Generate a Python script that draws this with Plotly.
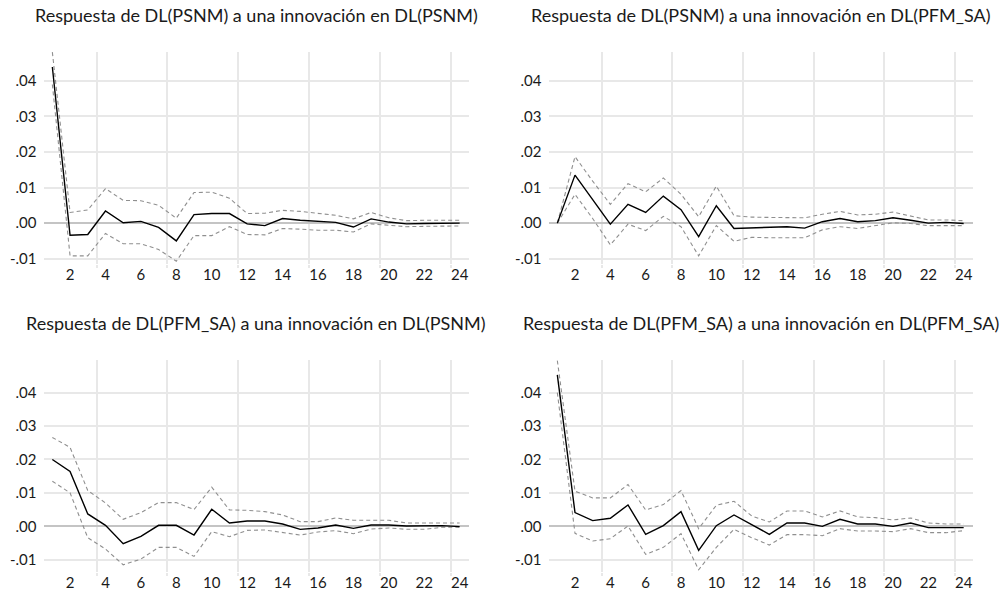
import plotly.graph_objects as go

periods = list(range(1, 25))

# Panel 1: Respuesta de DL(PSNM) a una innovación en DL(PSNM)
p1_irf = [0.0439, -0.0034, -0.0032, 0.0034, 0.0001, 0.0005, -0.0012, -0.0050, 0.0024, 0.0027, 0.0027, -0.0002,
          -0.0007, 0.0013, 0.0008, 0.0005, 0.0002, -0.0011, 0.0012, 0.0003, -0.0002, -0.0001, -0.0001, 0.0000]
p1_up = [0.0481, 0.0030, 0.0037, 0.0097, 0.0064, 0.0063, 0.0050, 0.0014, 0.0086, 0.0087, 0.0070, 0.0027,
         0.0028, 0.0036, 0.0033, 0.0028, 0.0022, 0.0012, 0.0030, 0.0015, 0.0007, 0.0008, 0.0008, 0.0008]
p1_lo = [0.0390, -0.0092, -0.0092, -0.0029, -0.0058, -0.0058, -0.0074, -0.0107, -0.0035, -0.0035, -0.0010, -0.0032,
         -0.0033, -0.0015, -0.0017, -0.0020, -0.0020, -0.0025, -0.0002, -0.0006, -0.0010, -0.0009, -0.0008, -0.0008]

# Panel 2: Respuesta de DL(PSNM) a una innovación en DL(PFM_SA)
p2_irf = [0.0000, 0.0135, 0.0066, -0.0003, 0.0053, 0.0030, 0.0076, 0.0038, -0.0038, 0.0049, -0.0015, -0.0013,
          -0.0013, -0.0010, -0.0014, 0.0004, 0.0013, 0.0004, 0.0007, 0.0015, 0.0008, 0.0000, 0.0002, -0.0001]
p2_up = [0.0000, 0.0187, 0.0118, 0.0053, 0.0111, 0.0088, 0.0127, 0.0081, 0.0018, 0.0104, 0.0021, 0.0017,
         0.0016, 0.0015, 0.0015, 0.0025, 0.0033, 0.0023, 0.0025, 0.0031, 0.0019, 0.0009, 0.0009, 0.0007]
p2_lo = [0.0000, 0.0081, 0.0013, -0.0061, -0.0003, -0.0021, 0.0019, -0.0010, -0.0092, -0.0007, -0.0051, -0.0040,
         -0.0041, -0.0041, -0.0041, -0.0019, -0.0010, -0.0015, -0.0006, 0.0001, -0.0001, -0.0007, -0.0007, -0.0007]

# Panel 3: Respuesta de DL(PFM_SA) a una innovación en DL(PSNM)
p3_irf = [0.0200, 0.0164, 0.0037, 0.0003, -0.0052, -0.0030, 0.0003, 0.0003, -0.0026, 0.0051, 0.0010, 0.0016,
          0.0016, 0.0007, -0.0009, -0.0005, 0.0004, -0.0006, 0.0004, 0.0004, 0.0001, 0.0001, 0.0002, -0.0001]
p3_up = [0.0266, 0.0236, 0.0107, 0.0070, 0.0021, 0.0041, 0.0071, 0.0071, 0.0050, 0.0117, 0.0049, 0.0048,
         0.0044, 0.0034, 0.0014, 0.0014, 0.0025, 0.0018, 0.0018, 0.0018, 0.0010, 0.0010, 0.0010, 0.0010]
p3_lo = [0.0135, 0.0100, -0.0034, -0.0068, -0.0115, -0.0098, -0.0063, -0.0063, -0.0090, -0.0016, -0.0031, -0.0012,
         -0.0011, -0.0018, -0.0026, -0.0017, -0.0013, -0.0022, -0.0008, -0.0005, -0.0009, -0.0009, -0.0003, -0.0003]

# Panel 4: Respuesta de DL(PFM_SA) a una innovación en DL(PFM_SA)
p4_irf = [0.0453, 0.0041, 0.0017, 0.0024, 0.0064, -0.0024, 0.0002, 0.0044, -0.0072, 0.0002, 0.0034, 0.0004,
          -0.0024, 0.0010, 0.0010, 0.0000, 0.0021, 0.0007, 0.0007, 0.0000, 0.0010, -0.0004, -0.0004, -0.0004]
p4_up = [0.0496, 0.0105, 0.0085, 0.0085, 0.0125, 0.0049, 0.0065, 0.0107, -0.0007, 0.0063, 0.0075, 0.0031,
         0.0013, 0.0046, 0.0046, 0.0028, 0.0046, 0.0028, 0.0026, 0.0019, 0.0025, 0.0010, 0.0007, 0.0007]
p4_lo = [0.0400, -0.0021, -0.0044, -0.0037, 0.0001, -0.0084, -0.0063, -0.0022, -0.0130, -0.0063, -0.0009, -0.0034,
         -0.0056, -0.0025, -0.0025, -0.0028, -0.0007, -0.0014, -0.0014, -0.0016, -0.0007, -0.0019, -0.0019, -0.0013]

titles = [
    "Respuesta de DL(PSNM) a una innovación en DL(PSNM)",
    "Respuesta de DL(PSNM) a una innovación en DL(PFM_SA)",
    "Respuesta de DL(PFM_SA) a una innovación en DL(PSNM)",
    "Respuesta de DL(PFM_SA) a una innovación en DL(PFM_SA)",
]

x_tickvals = list(range(2, 25, 2))
x_ticktext = [str(v) for v in x_tickvals]
x_gridvals = [3.5, 7.5, 11.5, 15.5, 19.5, 23.5]
y_tickvals = [-0.01, 0.0, 0.01, 0.02, 0.03, 0.04]
y_ticktext = ["-.01", ".00", ".01", ".02", ".03", ".04"]

panels = [(p1_irf, p1_up, p1_lo), (p2_irf, p2_up, p2_lo), (p3_irf, p3_up, p3_lo), (p4_irf, p4_up, p4_lo)]

W, H = 1005, 598
x_domains = [[43.5 / W, 468.5 / W], [548.5 / W, 972.5 / W]]
y_domains = [[1 - 265 / H, 1 - 52 / H], [1 - 575 / H, 1 - 362 / H]]
y_ranges = [[-0.0114, 0.0482], [-0.0137, 0.0497]]
title_y_px = [15, 325]

FONT = "Lato"
GRID = "#e8e8e8"
DASH_COLOR = "#8f8f8f"
TEXT = "#1a1a1a"

fig = go.Figure()
layout = dict(
    width=W, height=H, margin=dict(l=0, r=0, t=0, b=0),
    paper_bgcolor="white", plot_bgcolor="white", showlegend=False,
    font=dict(family=FONT, size=15, color=TEXT),
    annotations=[],
)

for i, (irf, up, lo) in enumerate(panels):
    row, col = divmod(i, 2)
    xa = "x" if i == 0 else f"x{i+1}"
    ya = "y" if i == 0 else f"y{i+1}"
    for series, color, dash, width in [(up, DASH_COLOR, "4px,3px", 1.1), (lo, DASH_COLOR, "4px,3px", 1.1), (irf, "black", "solid", 1.4)]:
        fig.add_trace(go.Scatter(x=periods, y=series, mode="lines", xaxis=xa, yaxis=ya,
                                 line=dict(color=color, width=width, dash=dash), hoverinfo="skip"))
    xkey = "xaxis" if i == 0 else f"xaxis{i+1}"
    ykey = "yaxis" if i == 0 else f"yaxis{i+1}"
    layout[xkey] = dict(
        domain=x_domains[col], anchor=ya, range=[0.5, 24.5],
        tickmode="array", tickvals=x_tickvals, ticktext=x_ticktext,
        showgrid=False, zeroline=False, showline=False, ticks="",
        tickfont=dict(family=FONT, size=15, color=TEXT),
        minor=dict(tickmode="array", tickvals=x_gridvals, showgrid=True, gridcolor=GRID, gridwidth=1.5,
                   ticks="outside", ticklen=3, tickcolor=GRID, tickwidth=1.5),
        fixedrange=True,
    )
    layout[ykey] = dict(
        domain=y_domains[row], anchor=xa, range=y_ranges[row],
        tickmode="array", tickvals=y_tickvals, ticktext=y_ticktext,
        showgrid=True, gridcolor=GRID, gridwidth=1.5,
        zeroline=True, zerolinecolor="#c4c4c4", zerolinewidth=2,
        showline=False, ticks="", ticklabelstandoff=6,
        tickfont=dict(family=FONT, size=15, color=TEXT),
        fixedrange=True,
    )
    layout["annotations"].append(dict(
        text=titles[i], xref="paper", yref="paper",
        x=sum(x_domains[col]) / 2, y=1 - title_y_px[row] / H,
        xanchor="center", yanchor="middle", showarrow=False,
        font=dict(family=FONT, size=18, color=TEXT),
    ))

fig.update_layout(**layout)
fig.write_html("out.html")
